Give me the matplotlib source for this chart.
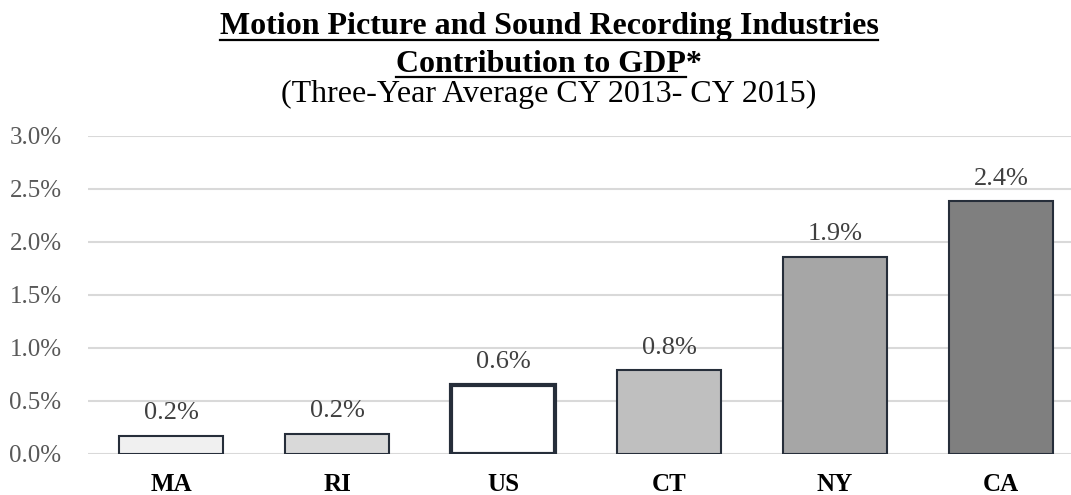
# === Libraries ===
import numpy as np
import matplotlib.pyplot as plt
from matplotlib.lines import Line2D

# === Data ===
states = ['MA', 'RI', 'US', 'CT', 'NY', 'CA']
gdp_share = [0.17, 0.19, 0.65, 0.79, 1.86, 2.38]  # percent
labels = ['0.2%', '0.2%', '0.6%', '0.8%', '1.9%', '2.4%']
fills = ['#f0f0f0', '#d9d9d9', '#ffffff', '#bfbfbf', '#a6a6a6', '#7f7f7f']
yticks = [0.0, 0.5, 1.0, 1.5, 2.0, 2.5, 3.0]

plt.rcParams['font.family'] = ['Liberation Serif', 'DejaVu Serif']

W, H = 1071, 495
fig = plt.figure(figsize=(W / 100, H / 100), dpi=100)
# axes placed in pixel units (the plot area runs a bit past the right edge)
ax = fig.add_axes([88 / W, (H - 454) / H, 996 / W, (454 - 135.7) / H])

x = np.arange(len(states))
edge = '#262e3a'
for i, v in enumerate(gdp_share):
    lw = 3.0 if states[i] == 'US' else 1.5
    ax.bar(x[i], v, width=0.63, color=fills[i], edgecolor=edge, linewidth=lw, zorder=3)
    ax.annotate(labels[i], (x[i], v), xytext=(0, 12), textcoords='offset points',
                ha='center', va='baseline', fontsize=19, color='#404040')

ax.set_xlim(-0.5, len(states) - 0.5)
ax.set_ylim(0, 3.0)
ax.set_yticks(yticks)
ax.set_yticklabels([f'{t:.1f}%' for t in yticks], fontsize=18, color='#595959')
ax.set_xticks(x)
ax.set_xticklabels(states, fontsize=18, fontweight='bold', color='black')
ax.tick_params(axis='both', length=0)
ax.tick_params(axis='x', pad=14)
ax.tick_params(axis='y', pad=19)
ax.grid(axis='y', color='#d9d9d9', linewidth=1.5, zorder=0)
for s in ax.spines.values():
    s.set_visible(False)

# === Titles ===
cx = 549 / W
t1 = fig.text(cx, 1 - 34 / H, 'Motion Picture and Sound Recording Industries',
              ha='center', va='baseline', fontsize=23, fontweight='bold')
t2 = fig.text(cx, 1 - 72 / H, 'Contribution to GDP*',
              ha='center', va='baseline', fontsize=23, fontweight='bold')
fig.text(cx, 1 - 102 / H, '(Three-Year Average CY 2013- CY 2015)',
         ha='center', va='baseline', fontsize=23)

# underline the two bold lines (the asterisk is left out)
fig.canvas.draw()
r = fig.canvas.get_renderer()
star = fig.text(0, 0, '*', fontsize=23, fontweight='bold')
star_w = star.get_window_extent(r).width
star.remove()
for t, base, cut in [(t1, 40, 0), (t2, 77, star_w)]:
    bb = t.get_window_extent(r)
    x0, x1 = bb.x0 / W, (bb.x1 - cut) / W
    yy = 1 - base / H
    fig.add_artist(Line2D([x0, x1], [yy, yy], color='black', linewidth=1.6,
                          transform=fig.transFigure))

fig.savefig('out.png', dpi=100)
